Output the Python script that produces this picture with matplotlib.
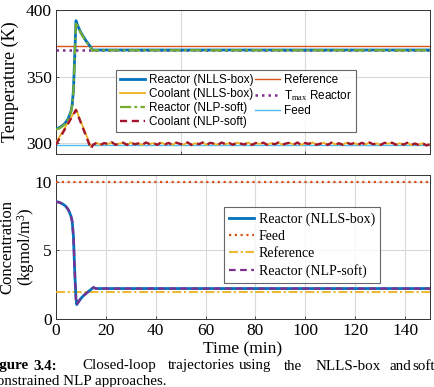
import numpy as np
import matplotlib
matplotlib.use("Agg")
import matplotlib.pyplot as plt

# ---- data ----
# top panel: temperatures (K)
react_time = [0, 1, 2, 3, 4, 5, 6, 6.5, 7, 7.5, 8, 9, 10, 11, 12, 13, 14, 14.5, 16, 150]
react_box = [311, 311.5, 312.5, 314, 316, 319, 324, 329, 340, 365, 392, 387, 383,
             380, 377, 374.5, 372, 370, 370, 370]
react_soft = [310.5, 311, 312, 313.5, 315.5, 318.5, 323.5, 328.5, 339, 364, 391, 386.5,
              382.5, 379.5, 376.5, 374, 371.5, 369.5, 369.8, 369.8]

cool_time = [0, 8, 14]
cool_box_start = [300.5, 325.5, 297.5]
cool_soft_start = [299, 325, 296]
cool_tail = [298.8, 300.4, 298.9, 300.2, 299.4, 300.8, 298.9, 299.8, 300.5, 298.8,
             300.7, 299.3, 299.9, 298.8, 300.6, 299.5, 300.1, 298.9, 300.6, 299.2,
             300.3, 298.9, 300.5, 299.6, 299.0, 300.7, 298.8, 300.0, 299.4, 300.6,
             298.8, 300.4, 299.7, 298.9, 300.6, 299.3, 300.2, 298.9, 300.5, 299.8,
             299.1, 300.7, 298.8, 300.3, 299.5, 300.5, 298.9, 300.1, 299.3, 300.6,
             298.9, 299.9, 300.4, 299.0, 300.6, 298.8, 300.2, 299.6, 300.7, 298.9,
             299.7, 300.4, 298.8, 300.5, 299.2, 300.0, 298.9, 300.6, 299.4, 300.2,
             298.9, 300.4, 299.1, 300.6, 299.3, 299.9, 298.8, 300.4, 299.6, 300.5,
             298.9, 300.1, 299.0, 300.4, 298.7, 299.8, 298.9, 300.1, 298.5, 299.2]
cool_tail_start = 14.8
t_end = 150

t_reference = 373.3
t_max = 370
t_feed = 299

# bottom panel: concentration (kgmol/m^3)
conc_time = [0, 1, 2, 3, 4, 5, 6, 6.5, 7, 7.5, 8, 8.3, 9, 10, 11, 12, 13, 14, 15, 16, 150]
conc_box = [8.55, 8.52, 8.45, 8.35, 8.2, 7.95, 7.5, 7.1, 6.0, 3.5, 1.5, 1.05, 1.25, 1.5,
            1.7, 1.85, 2.0, 2.15, 2.3, 2.22, 2.22]
conc_soft = [8.55, 8.52, 8.45, 8.35, 8.2, 7.95, 7.5, 7.1, 6.0, 3.5, 1.5, 1.05, 1.25, 1.5,
             1.7, 1.85, 2.0, 2.15, 2.3, 2.22, 2.22]
c_feed = 10
c_reference = 2

# MATLAB default colours
BLUE = "#0072BD"
ORANGE = "#D95319"
YELLOW = "#EDB120"
PURPLE = "#7E2F8E"
GREEN = "#77AC30"
LBLUE = "#4DBEEE"
DRED = "#A2142F"

SERIF = ["Liberation Serif", "DejaVu Serif"]
SANS = ["Liberation Sans", "DejaVu Sans"]
plt.rcParams["font.family"] = SERIF
plt.rcParams["mathtext.fontset"] = "custom"
plt.rcParams["mathtext.rm"] = "Liberation Serif"
plt.rcParams["mathtext.it"] = "Liberation Serif:italic"

W, H = 434, 387
fig = plt.figure(figsize=(W / 100, H / 100), dpi=100)
ax1 = fig.add_axes([56 / W, 1 - 154 / H, 374 / W, 144 / H])
ax2 = fig.add_axes([56 / W, 1 - 319 / H, 374 / W, 144 / H])

# ---- top: temperatures ----
cool_tail_time = np.linspace(cool_tail_start, t_end, len(cool_tail))
cool_t = list(cool_time) + list(cool_tail_time)
cool_box = cool_box_start + cool_tail
cool_soft = cool_soft_start + cool_tail

ax1.plot([0, t_end], [t_feed, t_feed], color=LBLUE, lw=1.0, label="Feed", zorder=2)
ax1.plot([0, t_end], [t_reference, t_reference], color=ORANGE, lw=1.0, label="Reference", zorder=2)
ax1.plot([0, t_end], [t_max, t_max], color=PURPLE, lw=1.8, ls=(0, (1, 1.6)),
         label=r"T$_{\rm max}$ Reactor", zorder=3)
ax1.plot(react_time, react_box, color=BLUE, lw=2.0, label="Reactor (NLLS-box)", zorder=4)
ax1.plot(cool_t, cool_box, color=YELLOW, lw=1.3, label="Coolant (NLLS-box)", zorder=4)
ax1.plot(react_time, react_soft, color=GREEN, lw=1.6, ls=(0, (5, 1.5, 1.2, 1.5)),
         label="Reactor (NLP-soft)", zorder=5)
ax1.plot(cool_t, cool_soft, color=DRED, lw=1.7, ls=(0, (3, 2)),
         label="Coolant (NLP-soft)", zorder=5)

ax1.set_xlim(0, 150)
ax1.set_ylim(292, 400)
ax1.set_xticks([0, 50, 100, 150])
ax1.set_xticklabels([])
ax1.set_yticks([300, 350, 400])
ax1.set_ylabel("Temperature (K)", fontsize=13)
ax1.yaxis.set_label_coords(-0.098, 0.5)

h, l = ax1.get_legend_handles_labels()
order = [3, 4, 5, 6, 1, 2, 0]
leg1 = ax1.legend([h[i] for i in order], [l[i] for i in order], ncol=2,
                  loc="lower left", bbox_to_anchor=(0.16, 0.15),
                  prop={"family": SANS, "size": 8.5}, frameon=True, fancybox=False,
                  handlelength=2.1, handletextpad=0.35, columnspacing=0.15,
                  labelspacing=0.18, borderpad=0.35, borderaxespad=0)
leg1.get_frame().set_edgecolor("#404040")
leg1.get_frame().set_linewidth(0.8)
leg1.set_zorder(10)

# ---- bottom: concentrations ----
ax2.plot(conc_time, conc_box, color=BLUE, lw=2.0, label="Reactor (NLLS-box)", zorder=4)
ax2.plot([0, t_end], [c_feed, c_feed], color=ORANGE, lw=1.6, ls=(0, (1, 1.6)),
         label="Feed", zorder=3)
ax2.plot([0, t_end], [c_reference, c_reference], color=YELLOW, lw=1.3,
         ls=(0, (5, 1.5, 1.2, 1.5)), label="Reference", zorder=3)
ax2.plot(conc_time, conc_soft, color=PURPLE, lw=1.6, ls=(0, (3, 2)),
         label="Reactor (NLP-soft)", zorder=5)

ax2.set_xlim(0, 150)
ax2.set_ylim(0, 10.5)
ax2.set_xticks(np.arange(0, 141, 20))
ax2.set_yticks([0, 5, 10])
ax2.set_xlabel("Time (min)", fontsize=12.5, labelpad=1.5)
ax2.set_ylabel("Concentration\n(kgmol/m$^3$)", fontsize=12, linespacing=0.95)
ax2.yaxis.set_label_coords(-0.052, 0.5)

leg2 = ax2.legend(loc="lower left", bbox_to_anchor=(0.449, 0.25),
                  prop={"family": SERIF, "size": 10}, frameon=True, fancybox=False,
                  handlelength=1.8, handletextpad=0.35, labelspacing=0.3,
                  borderpad=0.35, borderaxespad=0)
leg2.get_frame().set_edgecolor("#404040")
leg2.get_frame().set_linewidth(0.8)
leg2.set_zorder(10)

for ax in (ax1, ax2):
    ax.grid(True, color="#d9d9d9", lw=0.8)
    ax.set_axisbelow(True)
    ax.tick_params(direction="in", length=2.5, width=0.6, labelsize=12.5,
                   color="#333333", pad=3)
    for s in ax.spines.values():
        s.set_color("#333333")
        s.set_linewidth(0.7)

# ---- caption (justified, cut at the left edge like the scan) ----
cap_y1 = 1 - 366 / H
cap_y2 = 1 - 381 / H
cap_size = 10.8
fig.text(29 / W, cap_y1, "Figure", fontsize=cap_size, fontweight="bold", va="center", ha="right")
fig.text(33 / W, cap_y1, "3.4:", fontsize=cap_size, fontweight="bold", va="center")
words = ["Closed-loop", "trajectories", "using", "the", "NLLS-box", "and", "soft"]
word_cx = [119.5, 201, 254.5, 293.5, 348, 400, 424]
for w, x in zip(words, word_cx):
    fig.text(x / W, cap_y1, w, fontsize=cap_size, va="center", ha="center")
fig.text(167 / W, cap_y2, "constrained NLP approaches.", fontsize=cap_size, va="center", ha="right")

fig.savefig("out.png", dpi=100)
